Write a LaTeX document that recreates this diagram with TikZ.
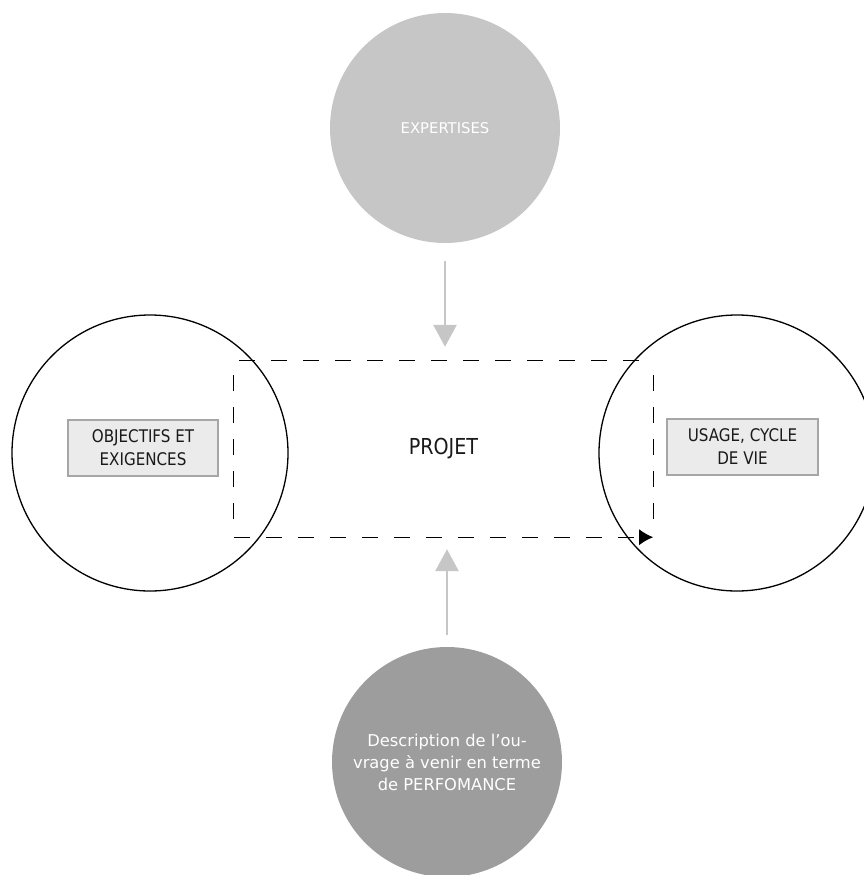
\documentclass[tikz,border=0pt]{standalone}
\usepackage{fontspec}
\setmainfont{DejaVu Sans}
\newfontfamily\capsfont{DejaVu Sans}[FakeStretch=0.87]
\usetikzlibrary{arrows.meta,calc}
\definecolor{expgray}{HTML}{C6C6C6}
\definecolor{descgray}{HTML}{9D9D9D}
\definecolor{boxfill}{HTML}{EBEBEB}
\definecolor{boxline}{HTML}{A6A6A6}
\definecolor{txtdark}{HTML}{1A1A1A}
\tikzset{
  bigcircle/.style={circle, draw=black, line width=1.3pt, minimum size=276pt, inner sep=0pt},
  graycircle/.style={circle, draw=none, minimum size=230pt, inner sep=0pt, text=white, align=center},
  labelbox/.style={rectangle, draw=boxline, fill=boxfill, line width=1.2pt, minimum width=150pt, minimum height=56pt, inner sep=0pt, align=center, text=txtdark, font=\capsfont\fontsize{17.4}{23}\selectfont},
  grayarrow/.style={draw=expgray, line width=2.8pt, -{Triangle[length=22pt,width=23pt]}},
  dashline/.style={draw=black, line width=1.3pt, dash pattern=on 16pt off 16pt}
}
\begin{document}
\begin{tikzpicture}[x=1pt,y=-1pt]
\useasboundingbox (0,0) rectangle (864,875);
% circles
\node[graycircle, fill=expgray, font=\fontsize{14.8}{18}\selectfont] (exp) at (445,128) {EXPERTISES};
\node[graycircle, fill=descgray, font=\fontsize{16.3}{22}\selectfont] (desc) at (447,762) {Description de l’ou-\\vrage à venir en terme\\de PERFOMANCE};
\node[bigcircle] (obj) at (150,453) {};
\node[bigcircle] (use) at (737,453) {};
% label boxes
\node[labelbox] (objbox) at (143,448) {OBJECTIFS ET\\EXIGENCES};
\node[labelbox, minimum width=151pt] (usebox) at (742.5,447) {USAGE, CYCLE\\DE VIE};
% project
\node[rectangle, minimum width=419pt, minimum height=176pt, inner sep=0pt, text=txtdark, font=\capsfont\fontsize{22}{26}\selectfont] (proj) at (443.5,449) {PROJET};
\draw[dashline] ([xshift=5pt]proj.north west) -- ([xshift=-8pt]proj.north east);
\draw[dashline] ([yshift=-14pt]proj.north west) -- ([yshift=10pt]proj.south west);
\draw[dashline] ([yshift=-14pt]proj.north east) -- ([yshift=10pt]proj.south east);
\draw[dashline, -{Latex[length=14pt,width=16pt]}] (proj.south west) -- (proj.south east);
% gray arrows
\draw[grayarrow, shorten <=18pt, shorten >=14pt] (exp.south) -- (exp.south |- proj.north);
\draw[grayarrow, shorten <=12pt, shorten >=12pt] (desc.north) -- (desc.north |- proj.south);
\end{tikzpicture}
\end{document}
